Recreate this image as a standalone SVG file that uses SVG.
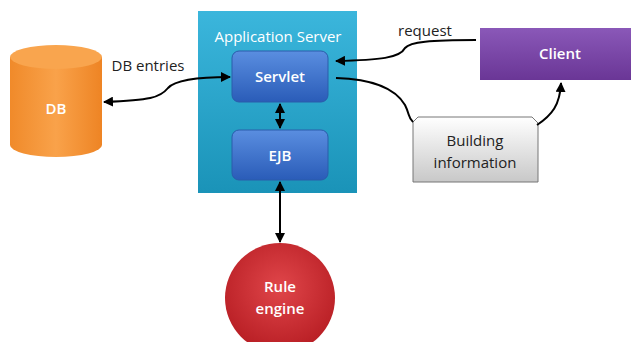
<svg xmlns="http://www.w3.org/2000/svg" width="631" height="342" viewBox="0 0 631 342">
<defs>
<linearGradient id="gApp" x1="0" y1="0" x2="0" y2="1"><stop offset="0" stop-color="#3bb6dc"/><stop offset="1" stop-color="#1a93b8"/></linearGradient>
<linearGradient id="gBlue" x1="0" y1="0" x2="0" y2="1"><stop offset="0" stop-color="#5a8ee0"/><stop offset="1" stop-color="#2a5cb8"/></linearGradient>
<linearGradient id="gDB" x1="0" y1="0" x2="1" y2="0"><stop offset="0" stop-color="#f08a2a"/><stop offset="0.5" stop-color="#f9a24a"/><stop offset="1" stop-color="#ee8424"/></linearGradient>
<linearGradient id="gClient" x1="0" y1="0" x2="0" y2="1"><stop offset="0" stop-color="#8a58b8"/><stop offset="1" stop-color="#6a3696"/></linearGradient>
<linearGradient id="gGray" x1="0" y1="0" x2="0" y2="1"><stop offset="0" stop-color="#ffffff"/><stop offset="1" stop-color="#c8c8c8"/></linearGradient>
<radialGradient id="gRed" cx="0.5" cy="0.4" r="0.6"><stop offset="0" stop-color="#e0464a"/><stop offset="1" stop-color="#b81e24"/></radialGradient>
<marker id="ah" viewBox="0 0 10 10" refX="9" refY="5" markerWidth="5" markerHeight="5" orient="auto-start-reverse"><path d="M0,0 L10,5 L0,10 z" fill="#000"/></marker>
<style>
.lbl{font-family:"Open Sans","Liberation Sans",sans-serif;font-size:15px;text-anchor:middle;}
.w{fill:#ffffff;font-weight:600;}
.k{fill:#222;}
.con{fill:none;stroke:#000;stroke-width:2;}
</style>
</defs>
<g id="appserver">
<rect x="198" y="11" width="159" height="182" fill="url(#gApp)"/>
<text class="lbl w" x="278" y="42" font-size="15" font-weight="normal" style="font-weight:500">Application Server</text>
</g>
<g id="servlet">
<rect x="232" y="51" width="96" height="51" rx="7" fill="url(#gBlue)" stroke="#2a5cab" stroke-width="1"/>
<text class="lbl w" x="280" y="82">Servlet</text>
</g>
<g id="ejb">
<rect x="232" y="130" width="96" height="50" rx="7" fill="url(#gBlue)" stroke="#2a5cab" stroke-width="1"/>
<text class="lbl w" x="280" y="161">EJB</text>
</g>
<g id="db">
<path d="M10,57 L10,145 A46,12 0 0 0 102,145 L102,57 Z" fill="url(#gDB)"/>
<ellipse cx="56" cy="57" rx="46" ry="12" fill="#f9a54e"/>
<text class="lbl w" x="56" y="114">DB</text>
</g>
<g id="client">
<rect x="480" y="28" width="151" height="52" fill="url(#gClient)"/>
<text class="lbl w" x="560" y="59">Client</text>
</g>
<g id="building">
<path d="M418,117 L532,117 L538,123 L538,182 L413,182 L413,122 Z" fill="url(#gGray)" stroke="#777" stroke-width="1"/>
<text class="lbl k" x="475" y="146" font-size="16">Building</text>
<text class="lbl k" x="475" y="168" font-size="16">information</text>
</g>
<g id="ruleengine">
<circle cx="280" cy="298" r="55" fill="url(#gRed)"/>
<text class="lbl w" x="280" y="292" font-size="16">Rule</text>
<text class="lbl w" x="280" y="314" font-size="16">engine</text>
</g>
<g id="labels">
<text class="lbl k" x="148" y="71">DB entries</text>
<text class="lbl k" x="425" y="36">request</text>
</g>
<g id="connectors">
<path class="con" d="M230,77 C200,77 175,80 168,88 C160,98 150,100 104,102" marker-start="url(#ah)" marker-end="url(#ah)"/>
<path class="con" d="M280,104 L280,128" marker-start="url(#ah)" marker-end="url(#ah)"/>
<path class="con" d="M280,182 L280,242" marker-start="url(#ah)" marker-end="url(#ah)"/>
<path class="con" d="M476,40 C430,40 410,42 405,48 C400,58 380,60 336,61" marker-end="url(#ah)"/>
<path class="con" d="M336,78 C370,79 395,88 405,105 C410,115 408,118 413,122"/>
<path class="con" d="M537,125 C552,115 560,105 561,83" marker-end="url(#ah)"/>
</g>
</svg>
